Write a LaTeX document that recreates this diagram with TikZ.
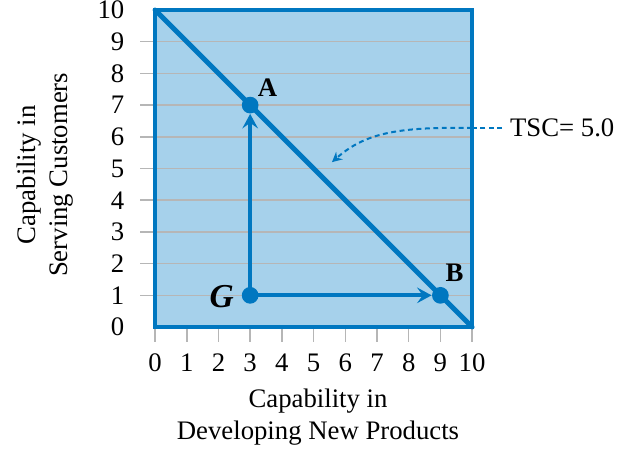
\documentclass[tikz,border=0pt]{standalone}
\usepackage{fontspec}
\setmainfont{Liberation Serif}
\usetikzlibrary{positioning,arrows.meta}
\definecolor{tscblue}{RGB}{0,119,192}
\definecolor{tscfill}{RGB}{166,209,235}
\definecolor{tscgrid}{RGB}{182,182,182}
\tikzset{
  frame/.style={draw=tscblue,line width=1.8pt,fill=tscfill},
  gline/.style={tscgrid,line width=0.7pt},
  iso/.style={tscblue,line width=2.2pt,line cap=round},
  move/.style={tscblue,line width=1.7pt,-{Stealth[length=6.5pt,width=7pt,inset=2.5pt]}},
  callout/.style={tscblue,line width=0.9pt,dash pattern=on 2.2pt off 1.6pt,
    -{Stealth[length=4.5pt,width=4.5pt,inset=1.5pt]}},
  dot/.style={circle,fill=tscblue,minimum size=7.5pt,inner sep=0pt},
  txt/.style={font=\fontsize{12}{14.5}\selectfont},
  ptlbl/.style={font=\fontsize{12}{14}\selectfont\bfseries},
}

\begin{document}
\begin{tikzpicture}[x=0.5cm,y=0.5cm]
  \useasboundingbox (-4.89,-3.85) rectangle (14.57,10.315);
  % plot area
  \fill[tscfill] (0,0) rectangle (10,10);
  \foreach \k in {1,...,9}{
    \draw[gline] (-0.47,\k)--(10,\k);
  }
  \foreach \k in {0,...,10}{
    \draw[gline] (\k,0)--(\k,-0.47);
    \node[txt,anchor=east] at (-0.72,\k) {\k};
    \node[txt] at (\k,-1.12) {\k};
  }
  \draw[frame,fill=none] (0,0) rectangle (10,10);
  % iso line
  \coordinate (top) at (0,10);
  \coordinate (bot) at (10,0);
  \draw[iso] (top)--(bot);
  % points
  \node[dot] (G) at (3,1) {};
  \node[dot] (A) at (3,7) {};
  \node[dot] (B) at (9,1) {};
  \draw[move] (G.center)--(A);
  \draw[move] (G.center)--(B);
  \node[ptlbl] at (3.55,7.55) {A};
  \node[ptlbl] at (9.45,1.72) {B};
  \node[font=\fontsize{15}{17}\selectfont\bfseries\itshape] at (2.1,0.95) {G};
  % TSC callout
  \node[txt,anchor=west] (tsc) at (10.95,6.28) {TSC= 5.0};
  \coordinate (tscin) at (10,6.28);
  \coordinate (tsctip) at (5.58,5.2);
  \draw[tscblue,line width=0.9pt,dash pattern=on 2.2pt off 1.6pt] (tsc.west)--(tscin);
  \draw[callout] (tscin) .. controls (7.6,6.32) and (6.6,6.1) .. (tsctip);
  % axis titles
  \node[txt,align=center,rotate=90] at (-3.47,4.8) {Capability in\\Serving Customers};
  \node[txt,align=center] at (5.14,-2.84) {Capability in\\Developing New Products};
\end{tikzpicture}
\end{document}
